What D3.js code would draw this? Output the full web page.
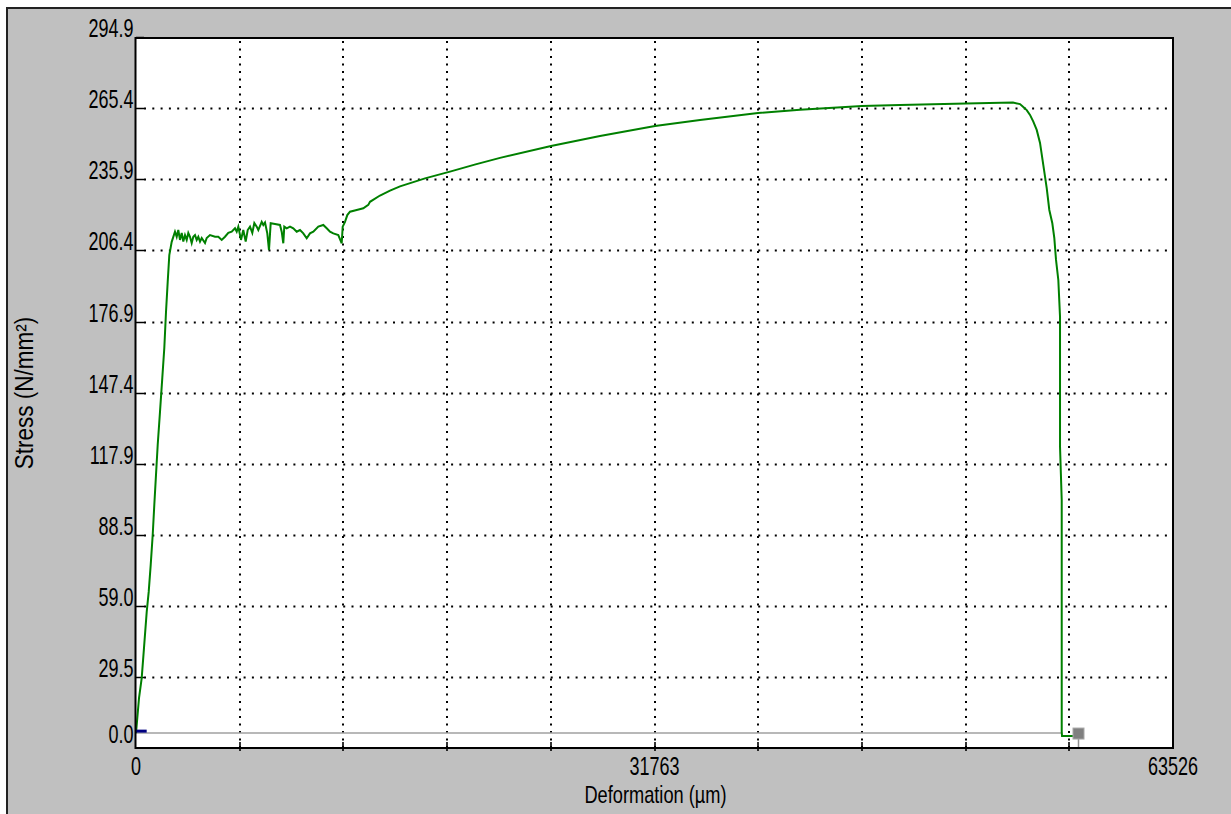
<!DOCTYPE html>
<html><head><meta charset="utf-8">
<script src="https://cdn.jsdelivr.net/npm/d3@7"></script>
<style>html,body{margin:0;padding:0;background:#fff;overflow:hidden}</style>
</head><body><svg id="c" width="1231" height="814"></svg>
<script>
// ---- data ----
const deformation = [0,184,349,490,656,778,901,1023,1121,1225,1329,1470,1611,1734,1838,1942,2040,2187,
 2389,2493,2591,2695,2800,2898,3002,3106,3204,3308,3412,3510,3614,3719,3817,3921,4025,4227,4331,4533,4840,5042,5250,5452,5654,5863,6065,6169,6267,6432,6573,6720,6843,6984,7125,7248,7395,7493,7701,7799,7903,8043,8147,8251,8515,8821,8925,9023,9084,9231,9434,9636,9844,10047,10249,10457,10659,10862,11168,11474,11683,11885,12087,12393,12601,12662,12803,12944,13109,13520,13924,14230,14335,14947,15560,16173,17705,19236,20800,22299,25423,28425,31794,34551,38104,40677,44475,46803,50846,53725,54154,54338,54565,54767,54969,55177,55380,55582,55790,55949,56133,56256,56360,56501,56605,56605,56709,56709,56728,57402];
const stress = [6.4,20.9,29.2,41.7,56.6,64.9,76.1,88.5,100.9,113.4,125.8,139.5,153.6,166.0,180.9,193.4,204.5,210.0,
 214.2,212.1,214.9,210.8,213.7,210.1,212.8,210.8,213.7,212.1,209.5,212.1,212.8,210.8,212.1,210.1,211.6,209.5,211.6,212.8,212.1,212.1,210.8,212.1,213.7,214.2,215.6,214.2,216.3,210.8,214.9,210.1,214.9,216.3,213.7,217.8,216.3,214.9,218.3,217.0,218.0,213.5,206.6,217.7,217.4,217.0,214.2,209.4,216.3,215.6,216.3,215.6,214.2,214.9,213.5,211.5,213.5,214.2,216.3,217.0,215.6,214.2,213.5,212.8,209.4,216.3,218.3,221.1,222.5,223.2,223.9,225.3,226.6,229.2,231.2,233.0,236.3,239.1,242.1,244.8,249.7,253.9,258.0,260.5,263.4,264.7,266.3,266.7,267.3,267.7,267.1,266.0,264.6,262.6,259.8,256.4,251.0,241.8,232.3,223.2,217.7,211.5,202.5,194.2,179.0,125.1,103.0,7.0,5.2,5.2];
const yTickValues = [0, 29.49, 58.98, 88.47, 117.96, 147.45, 176.94, 206.43, 235.92, 265.41, 294.9];
const yTickLabels = ["0.0","29.5","59.0","88.5","117.9","147.4","176.9","206.4","235.9","265.4","294.9"];
const xTickValues = [0,6352.6,12705.2,19057.8,25410.4,31763,38115.6,44468.2,50820.8,57173.4,63526];
const xLabelValues = [0, 31763, 63526];
const xLabels = ["0","31763","63526"];
const baselineStress = 6.4;         // grey reference line
const baselineEnd = 56709;
const startMarkDeform = [0, 655];   // small blue segment at origin
const startMarkStress = 7.2;
const endMarkDeform = 57737;        // grey square marker
const endMarkStress = 6.2;
const xTitle = "Deformation (µm)";
const yTitle = "Stress (N/mm²)";

// ---- layout ----
const svg = d3.select("#c");
const font = '"Liberation Sans",Arial,sans-serif';
const L = 136, R = 1173, T = 38, B = 748;
const x = d3.scaleLinear().domain([0, 63526]).range([L, R]);
const y = d3.scaleLinear().domain([0, 294.9]).range([748.5, 37]);

// panel background
svg.append("rect").attr("x",7).attr("y",8).attr("width",1224).attr("height",806).attr("fill","#c0c0c0");
svg.append("line").attr("x1",6).attr("x2",1231).attr("y1",8).attr("y2",8).attr("stroke","#222").attr("stroke-width",2);
svg.append("line").attr("x1",7).attr("x2",7).attr("y1",7).attr("y2",814).attr("stroke","#222").attr("stroke-width",2);

// plot area
svg.append("rect").attr("x",L).attr("y",T).attr("width",R-L).attr("height",B-T).attr("fill","#fff");

// grid
const g = svg.append("g");
g.selectAll(".hg").data(yTickValues.slice(1,-1)).enter().append("line")
  .attr("x1",L+8).attr("x2",R).attr("y1",d=>Math.round(y(d))+0.5).attr("y2",d=>Math.round(y(d))+0.5)
  .attr("stroke","#000").attr("stroke-width",2).attr("stroke-dasharray","2,6.3");
g.selectAll(".vg").data(xTickValues.slice(1,-1)).enter().append("line")
  .attr("x1",d=>Math.round(x(d))).attr("x2",d=>Math.round(x(d))).attr("y1",T+3).attr("y2",B)
  .attr("stroke","#000").attr("stroke-width",2).attr("stroke-dasharray","2,5.5");

// y ticks (inward)
g.selectAll(".yt").data(yTickValues.slice(1)).enter().append("line")
  .attr("x1",L).attr("x2",L+8).attr("y1",d=>Math.round(y(d))+0.5).attr("y2",d=>Math.round(y(d))+0.5)
  .attr("stroke","#000").attr("stroke-width",1.5);
// x ticks (crossing axis)
g.selectAll(".xt").data(xTickValues.slice(1,-1)).enter().append("line")
  .attr("x1",d=>Math.round(x(d))).attr("x2",d=>Math.round(x(d))).attr("y1",B-6).attr("y2",B+3)
  .attr("stroke","#000").attr("stroke-width",1.6);

// baseline grey line
svg.append("line").attr("x1",x(0)).attr("x2",x(baselineEnd)).attr("y1",y(baselineStress)).attr("y2",y(baselineStress))
  .attr("stroke","#a0a0a0").attr("stroke-width",1.6);

// curve
const line = d3.line().x(d=>x(d[0])).y(d=>y(d[1]));
svg.append("path").datum(deformation.map((d,i)=>[d,stress[i]]))
  .attr("d",line).attr("fill","none").attr("stroke","#008000").attr("stroke-width",2).attr("stroke-linejoin","miter");

// start marker
svg.append("line").attr("x1",x(startMarkDeform[0])).attr("x2",x(startMarkDeform[1]))
  .attr("y1",y(startMarkStress)).attr("y2",y(startMarkStress)).attr("stroke","#000080").attr("stroke-width",3);

// end marker
svg.append("line").attr("x1",x(endMarkDeform)).attr("x2",x(endMarkDeform)).attr("y1",y(endMarkStress)).attr("y2",B)
  .attr("stroke","#909090").attr("stroke-width",1.5);
svg.append("rect").attr("x",x(endMarkDeform)-5.5).attr("y",y(endMarkStress)-5.5).attr("width",11).attr("height",11)
  .attr("fill","#808080").attr("stroke","#a8a8a8").attr("stroke-width",1);

// frame
svg.append("rect").attr("x",L-0.5).attr("y",T).attr("width",R-L+0.5).attr("height",B-T)
  .attr("fill","none").attr("stroke","#000").attr("stroke-width",2);

// condensed text helper
function ctext(px, py, str, anchor, size, sx, rot) {
  svg.append("text")
    .attr("transform", `translate(${px},${py})` + (rot ? ` rotate(${rot})` : "") + ` scale(${sx},1)`)
    .attr("text-anchor", anchor).attr("font-family", font).attr("font-size", size)
    .attr("fill", "#000").text(str);
}
// y labels
yTickValues.forEach((v,i)=> ctext(133.5, Math.min(y(v), y(0)-5.5), yTickLabels[i], "end", 25, 0.72));
// x labels
xLabelValues.forEach((v,i)=> ctext(x(v), 775, xLabels[i], "middle", 25, 0.72));
// titles
ctext((L+R)/2 + 1, 803, xTitle, "middle", 24, 0.76);
ctext(33, 393, yTitle, "middle", 25, 0.9, -90);
</script></body></html>
